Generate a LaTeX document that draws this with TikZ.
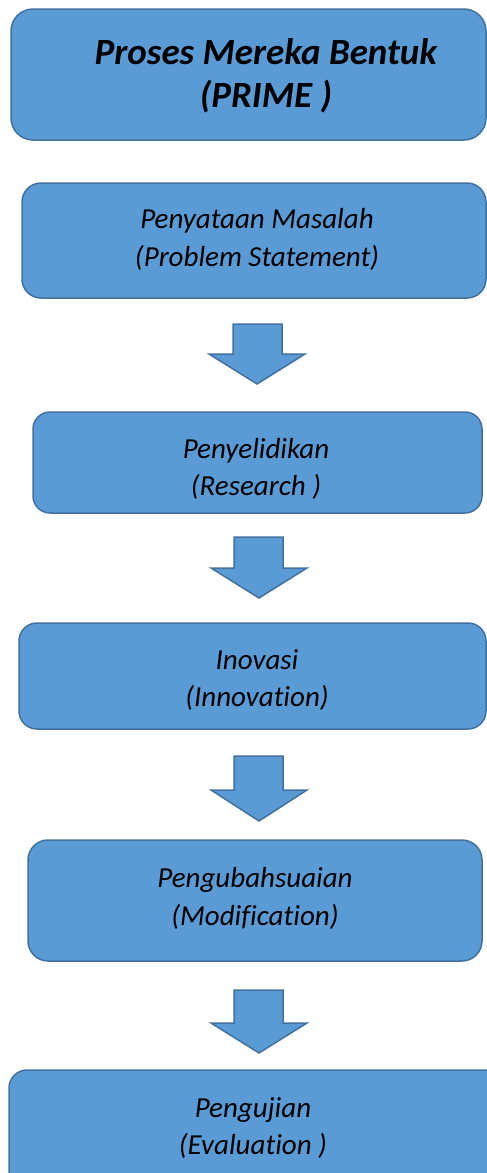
\documentclass[tikz,border=0pt]{standalone}
\usepackage{fontspec}
\setmainfont{Carlito}[Ligatures=NoCommon]
\usetikzlibrary{positioning}
\definecolor{boxfill}{HTML}{5B9BD5}
\definecolor{boxline}{HTML}{41719C}
\begin{document}
\begin{tikzpicture}[x=1pt,y=-1pt,
  stepbox/.style={draw=boxline, fill=boxfill, line width=1.5pt, rectangle, inner sep=0pt},
  lbl/.style={anchor=base, inner sep=0pt, font=\fontsize{29}{34}\selectfont\itshape},
  ttl/.style={anchor=base, inner sep=0pt, font=\fontsize{37}{44}\selectfont\bfseries\itshape},
  blockarrow/.style={draw=boxline, fill=boxfill, line width=1.5pt, line join=miter}
]
\useasboundingbox (0,0) rectangle (487,1173);
\clip (0,0) rectangle (487,1173);

% boxes
\node[stepbox, rounded corners=22pt, minimum width=475pt, minimum height=131pt] (b1) at (248.5,74.5) {};
\node[stepbox, rounded corners=19pt, minimum width=464pt, minimum height=115pt] (b2) at (254,240.5) {};
\node[stepbox, rounded corners=17pt, minimum width=449pt, minimum height=101pt] (b3) at (257.5,462.5) {};
\node[stepbox, rounded corners=18pt, minimum width=467pt, minimum height=106pt] (b4) at (252.5,676) {};
\node[stepbox, rounded corners=20pt, minimum width=454pt, minimum height=121pt] (b5) at (255,900.5) {};
\node[stepbox, rounded corners=18pt, minimum width=494pt, minimum height=130pt] (b6) at (256,1135) {};

% texts
\node[ttl] (t1a) at (266,64) {Proses Mereka Bentuk};
\node[ttl] (t1b) at (266,107) {(PRIME )};
\node[lbl] (t2a) at (257,228) {Penyataan Masalah};
\node[lbl] (t2b) at (257,266) {(Problem Statement)};
\node[lbl] (t3a) at (256,458) {Penyelidikan};
\node[lbl] (t3b) at (256,495) {(Research )};
\node[lbl] (t4a) at (257,669) {Inovasi};
\node[lbl] (t4b) at (257,706) {(Innovation)};
\node[lbl] (t5a) at (255,887) {Pengubahsuaian};
\node[lbl] (t5b) at (255,925) {(Modification)};
\node[lbl] (t6a) at (253,1117) {Pengujian};
\node[lbl] (t6b) at (253,1154) {(Evaluation )};

% block arrows: top y, wing y, tip y
\foreach \n/\xs/\xt/\top/\wing/\tip in {a1/233/257/324/354/384, a2/234/259/537/568/598, a3/234/259/756/790/821, a4/234/259/990/1023/1053}{
  \draw[blockarrow] (\xs,\top) -- (\xs+49,\top) -- (\xs+49,\wing) -- (\xt+48,\wing) -- (\xt,\tip) -- (\xt-48,\wing) -- (\xs,\wing) -- cycle;
}
\end{tikzpicture}
\end{document}
